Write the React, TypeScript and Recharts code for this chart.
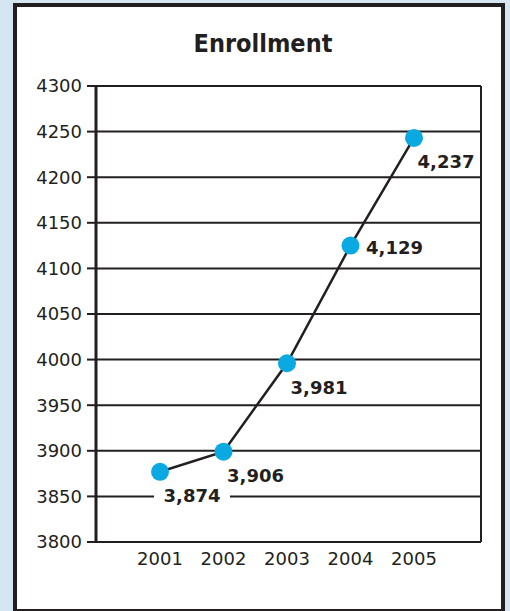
import React from "react";
import { LineChart, Line, XAxis, YAxis, CartesianGrid, LabelList } from "recharts";

const years = ["2001", "2002", "2003", "2004", "2005"];
const enrollment = [3877, 3899, 3996, 4125, 4243];
const enrollmentLabels = ["3,874", "3,906", "3,981", "4,129", "4,237"];
const yTicks = [3800, 3850, 3900, 3950, 4000, 4050, 4100, 4150, 4200, 4250, 4300];
const title = "Enrollment";

const data = years.map((year, i) => ({ year, value: enrollment[i], label: enrollmentLabels[i] }));

const INK = "#231f20";
const DOT = "#0aa9e1";
const FONT = "'DejaVu Sans', sans-serif";

const renderLabel = (props: any) => {
  const { x, y, index } = props;
  const text = enrollmentLabels[index];
  const right = index === 3;
  const cx = x + (right ? 44 : 32);
  const cy = y + (right ? 2 : 24);
  return (
    <g>
      {index === 0 && <rect x={cx - 38} y={cy - 11} width={76} height={22} fill="#ffffff" />}
      <text
        x={cx}
        y={cy}
        textAnchor="middle"
        dominantBaseline="central"
        fontFamily={FONT}
        fontWeight="bold"
        fontSize={18}
        fill={INK}
      >
        {text}
      </text>
    </g>
  );
};

export default function App() {
  return (
    <div
      style={{
        position: "fixed",
        left: 0,
        top: 0,
        width: 510,
        height: 611,
        background: "#d5e6f2",
        overflow: "hidden",
      }}
    >
      <div
        style={{
          position: "absolute",
          left: 13,
          top: 3,
          width: 492,
          height: 610,
          border: `4px solid ${INK}`,
          background: "#ffffff",
          boxSizing: "border-box",
        }}
      />
      <svg width={510} height={80} style={{ position: "absolute", left: 0, top: 0 }}>
        <text
          x={263}
          y={52}
          textAnchor="middle"
          fontFamily="'DejaVu Sans Condensed', 'DejaVu Sans', sans-serif"
          fontWeight="bold"
          fontSize={25}
          fill={INK}
        >
          {title}
        </text>
      </svg>
      <div style={{ position: "absolute", left: 0, top: 0 }}>
        <LineChart width={510} height={611} data={data} margin={{ top: 86, right: 28, bottom: 39, left: 0 }}>
          <CartesianGrid vertical={false} stroke={INK} strokeWidth={2} />
          <XAxis
            dataKey="year"
            padding={{ left: 64, right: 67 }}
            height={30}
            axisLine={{ stroke: INK, strokeWidth: 2 }}
            tickLine={false}
            tickSize={0}
            tickMargin={10}
            tick={{ fill: INK, fontSize: 18, fontFamily: FONT }}
          />
          <YAxis
            width={96}
            domain={[3800, 4300]}
            ticks={yTicks}
            interval={0}
            axisLine={{ stroke: INK, strokeWidth: 3 }}
            tickLine={{ stroke: INK, strokeWidth: 2 }}
            tickSize={9}
            tickMargin={5}
            tick={{ fill: INK, fontSize: 18, fontFamily: FONT }}
          />
          <YAxis
            yAxisId="r"
            orientation="right"
            width={1}
            domain={[3800, 4300]}
            ticks={yTicks}
            tick={false}
            tickLine={false}
            axisLine={{ stroke: INK, strokeWidth: 2 }}
          />
          <Line
            dataKey="value"
            stroke={INK}
            strokeWidth={2.5}
            isAnimationActive={false}
            dot={{ r: 9, fill: DOT, stroke: "none", strokeWidth: 0 }}
            activeDot={false}
          >
            <LabelList dataKey="label" content={renderLabel} />
          </Line>
        </LineChart>
      </div>
    </div>
  );
}
